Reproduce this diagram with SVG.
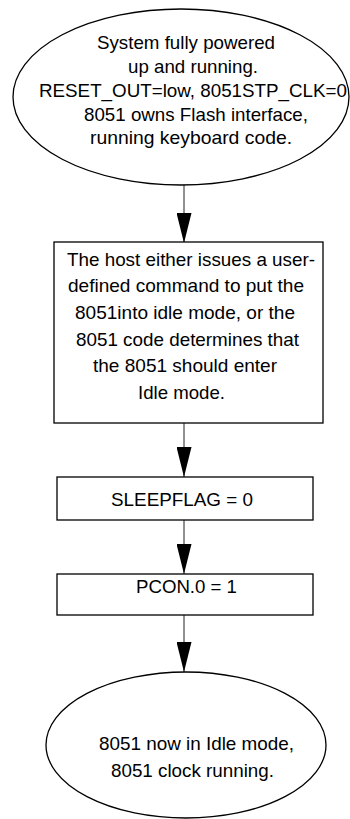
<svg xmlns="http://www.w3.org/2000/svg" width="350" height="819" viewBox="0 0 350 819">
<style>
.shape{fill:#fff;stroke:#000;stroke-width:1.3}
.t{font-family:"Liberation Sans",Arial,sans-serif;font-size:18.5px;fill:#000;text-anchor:start}
.conn{stroke:#222;stroke-width:1;fill:none}
</style>
<defs>
<marker id="ah" markerUnits="userSpaceOnUse" viewBox="0 -7.5 30 15" markerWidth="30" markerHeight="15" refX="30" refY="0" orient="auto">
<path d="M0,-7.5 L30,0 L0,7.5 z" fill="#000"/>
</marker>
</defs>
<rect width="350" height="819" fill="#fff"/>
<g id="connectors">
<line class="conn" x1="184" y1="185" x2="184" y2="243" marker-end="url(#ah)"/>
<line class="conn" x1="184" y1="407" x2="184" y2="477" marker-end="url(#ah)"/>
<line class="conn" x1="184" y1="517" x2="184" y2="574" marker-end="url(#ah)"/>
<line class="conn" x1="184" y1="615" x2="184" y2="672" marker-end="url(#ah)"/>
</g>
<g id="start">
<ellipse class="shape" cx="181" cy="97" rx="168" ry="88"/>
<text class="t" x="97" y="49" textLength="178" lengthAdjust="spacingAndGlyphs">System fully powered</text>
<text class="t" x="128" y="73" textLength="130" lengthAdjust="spacingAndGlyphs">up and running.</text>
<text class="t" x="39" y="97" textLength="308" lengthAdjust="spacingAndGlyphs">RESET_OUT=low, 8051STP_CLK=0</text>
<text class="t" x="84" y="121" textLength="224" lengthAdjust="spacingAndGlyphs">8051 owns Flash interface,</text>
<text class="t" x="90" y="144" textLength="202" lengthAdjust="spacingAndGlyphs">running keyboard code.</text>
</g>
<g id="decide">
<rect class="shape" x="54" y="242" width="269" height="181"/>
<text class="t" x="67" y="266" textLength="248" lengthAdjust="spacingAndGlyphs">The host either issues a user-</text>
<text class="t" x="68" y="292" textLength="236" lengthAdjust="spacingAndGlyphs">defined command to put the</text>
<text class="t" x="75" y="319" textLength="220" lengthAdjust="spacingAndGlyphs">8051into idle mode, or the</text>
<text class="t" x="76" y="346" textLength="223" lengthAdjust="spacingAndGlyphs">8051 code determines that</text>
<text class="t" x="93" y="372" textLength="184" lengthAdjust="spacingAndGlyphs">the 8051 should enter</text>
<text class="t" x="138" y="399" textLength="87" lengthAdjust="spacingAndGlyphs">Idle mode.</text>
</g>
<g id="sleepflag">
<rect class="shape" x="57" y="477" width="256" height="43"/>
<text class="t" x="111" y="506" textLength="142" lengthAdjust="spacingAndGlyphs">SLEEPFLAG = 0</text>
</g>
<g id="pcon">
<rect class="shape" x="57" y="574" width="256" height="41"/>
<text class="t" x="136" y="592.5" textLength="101" lengthAdjust="spacingAndGlyphs">PCON.0 = 1</text>
</g>
<g id="idle">
<ellipse class="shape" cx="186" cy="745" rx="140" ry="73"/>
<text class="t" x="99" y="750" textLength="195" lengthAdjust="spacingAndGlyphs">8051 now in Idle mode,</text>
<text class="t" x="111" y="777" textLength="163" lengthAdjust="spacingAndGlyphs">8051 clock running.</text>
</g>
</svg>
